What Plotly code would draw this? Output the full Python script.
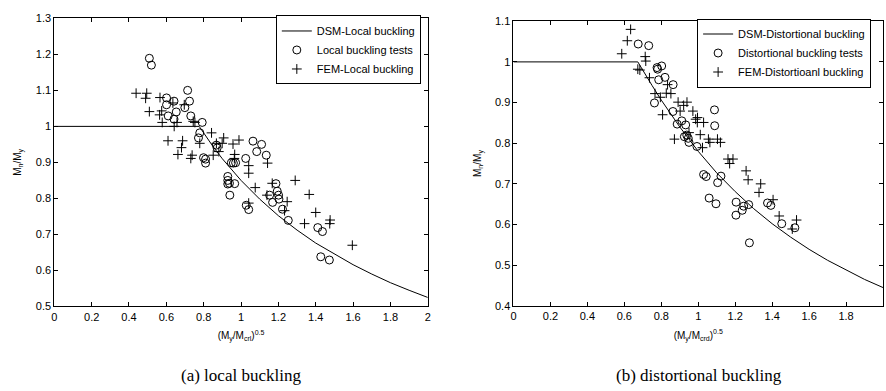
import plotly.graph_objects as go

# ---------------- data: (a) local buckling ----------------
dsm_local_x = [0, 0.776, 0.85, 0.9, 1.0, 1.1, 1.2, 1.3, 1.4, 1.5, 1.6, 1.7, 1.8, 1.9, 2.0]
dsm_local_y = [1.0, 1.0, 0.944, 0.910, 0.850, 0.798, 0.752, 0.712, 0.676, 0.645, 0.616, 0.590, 0.566, 0.545, 0.525]

local_test_x = [0.509, 0.520, 0.601, 0.601, 0.610, 0.641, 0.641, 0.653, 0.699, 0.714, 0.724, 0.731,
                0.792, 0.779, 0.772, 0.799, 0.810, 0.810, 0.868, 0.872, 0.929, 0.929, 0.929, 0.938,
                0.940, 0.966, 0.948, 0.959, 0.971, 1.025, 1.028, 1.041, 1.064, 1.084, 1.110, 1.135,
                1.187, 1.194, 1.201, 1.203, 1.153, 1.169, 1.222, 1.253, 1.411, 1.436, 1.427, 1.473]
local_test_y = [1.189, 1.170, 1.079, 1.060, 1.029, 1.070, 1.020, 1.040, 1.052, 1.100, 1.070, 1.029,
                1.011, 0.982, 0.968, 0.913, 0.909, 0.898, 0.948, 0.940, 0.861, 0.850, 0.840, 0.842,
                0.809, 0.841, 0.899, 0.898, 0.899, 0.911, 0.781, 0.769, 0.959, 0.930, 0.950, 0.920,
                0.841, 0.820, 0.809, 0.798, 0.809, 0.789, 0.770, 0.739, 0.719, 0.708, 0.638, 0.629]

local_fem_x = [0.438, 0.495, 0.489, 0.509, 0.566, 0.564, 0.575, 0.578, 0.609, 0.635, 0.642, 0.657,
               0.662, 0.687, 0.681, 0.696, 0.731, 0.738, 0.744, 0.753, 0.779, 0.842, 0.851, 0.868,
               0.881, 0.899, 0.907, 0.957, 0.989, 0.966, 0.964, 1.041, 1.041, 1.076, 1.041, 1.142,
               1.167, 1.139, 1.247, 1.233, 1.290, 1.365, 1.340, 1.400, 1.477, 1.475, 1.596]
local_fem_y = [1.092, 1.092, 1.078, 1.041, 1.080, 1.032, 1.043, 1.011, 0.960, 1.065, 1.000, 1.011,
               0.922, 0.960, 0.941, 1.060, 0.911, 0.920, 1.014, 1.011, 0.953, 0.982, 0.920, 0.953,
               0.930, 0.953, 0.968, 0.951, 0.962, 0.922, 0.911, 0.891, 0.870, 0.830, 0.787, 0.898,
               0.842, 0.809, 0.791, 0.766, 0.850, 0.811, 0.730, 0.761, 0.740, 0.730, 0.670]

# ---------------- data: (b) distortional buckling ----------------
dsm_dist_x = [0, 0.673, 0.75, 0.8, 0.9, 1.0, 1.1, 1.2, 1.3, 1.4, 1.5, 1.6, 1.7, 1.8, 1.9, 2.0]
dsm_dist_y = [1.0, 1.0, 0.942, 0.906, 0.840, 0.780, 0.727, 0.681, 0.639, 0.602, 0.569, 0.539, 0.512, 0.488, 0.465, 0.445]

dist_test_x = [0.675, 0.732, 0.777, 0.780, 0.802, 0.820, 0.786, 0.864, 0.763, 0.863, 0.911, 0.886,
               0.932, 0.938, 0.925, 0.946, 0.950, 0.993, 1.088, 1.089, 1.029, 1.043, 1.105, 1.123,
               1.059, 1.096, 1.205, 1.204, 1.238, 1.246, 1.273, 1.277, 1.375, 1.393, 1.452, 1.523]
dist_test_y = [1.044, 1.040, 0.986, 0.982, 0.990, 0.962, 0.956, 0.944, 0.899, 0.878, 0.855, 0.847,
               0.845, 0.820, 0.816, 0.812, 0.802, 0.792, 0.882, 0.843, 0.723, 0.718, 0.703, 0.719,
               0.665, 0.651, 0.655, 0.623, 0.635, 0.645, 0.649, 0.555, 0.653, 0.647, 0.602, 0.592]

dist_fem_x = [0.634, 0.616, 0.586, 0.713, 0.716, 0.673, 0.684, 0.736, 0.766, 0.795, 0.807, 0.827,
              0.852, 0.834, 0.871, 0.891, 0.902, 0.921, 0.939, 0.950, 0.971, 0.986, 0.996, 0.995,
              1.029, 1.011, 1.023, 1.055, 1.063, 1.104, 1.120, 1.161, 1.170, 1.188, 1.259, 1.270,
              1.338, 1.329, 1.405, 1.438, 1.509, 1.532]
dist_fem_y = [1.080, 1.052, 1.020, 1.013, 1.002, 0.982, 0.980, 0.961, 0.922, 0.913, 0.870, 0.923,
              0.922, 0.944, 0.810, 0.901, 0.879, 0.893, 0.901, 0.826, 0.879, 0.859, 0.863, 0.851,
              0.851, 0.821, 0.789, 0.810, 0.802, 0.810, 0.802, 0.761, 0.750, 0.761, 0.732, 0.710,
              0.700, 0.679, 0.661, 0.621, 0.589, 0.611]

x_ticks = [0, 0.2, 0.4, 0.6, 0.8, 1, 1.2, 1.4, 1.6, 1.8, 2]

FONT = "Liberation Sans, Arial, sans-serif"
circle = dict(symbol="circle-open", size=8, color="black", line=dict(width=1, color="black"))
plus = dict(symbol="cross-thin", size=7, color="black", line=dict(width=1, color="black"))

fig = go.Figure()
fig.add_trace(go.Scatter(x=dsm_local_x, y=dsm_local_y, mode="lines", line=dict(color="black", width=1),
                         name="DSM-Local buckling", xaxis="x", yaxis="y", legend="legend"))
fig.add_trace(go.Scatter(x=local_test_x, y=local_test_y, mode="markers", marker=circle,
                         name="Local buckling tests", xaxis="x", yaxis="y", legend="legend"))
fig.add_trace(go.Scatter(x=local_fem_x, y=local_fem_y, mode="markers", marker=plus,
                         name="FEM-Local buckling", xaxis="x", yaxis="y", legend="legend"))
fig.add_trace(go.Scatter(x=dsm_dist_x, y=dsm_dist_y, mode="lines", line=dict(color="black", width=1),
                         name="DSM-Distortional buckling", xaxis="x2", yaxis="y2", legend="legend2"))
fig.add_trace(go.Scatter(x=dist_test_x, y=dist_test_y, mode="markers", marker=circle,
                         name="Distortional buckling tests", xaxis="x2", yaxis="y2", legend="legend2"))
fig.add_trace(go.Scatter(x=dist_fem_x, y=dist_fem_y, mode="markers", marker=plus,
                         name="FEM-Distortioanl buckling", xaxis="x2", yaxis="y2", legend="legend2"))

axis_common = dict(showgrid=False, zeroline=False, showline=True, linecolor="black", linewidth=1,
                   mirror="ticks", ticks="inside", ticklen=4, tickcolor="black",
                   tickfont=dict(family=FONT, size=11, color="black"))

fig.update_layout(
    width=886, height=391,
    margin=dict(l=0, r=0, t=0, b=0),
    paper_bgcolor="white", plot_bgcolor="white",
    font=dict(family=FONT, color="black"),
    xaxis=dict(domain=[0.0583, 0.4827], range=[0, 2], tickvals=x_ticks, anchor="y",
               title=dict(text="(M<sub>y</sub>/M<sub>crl</sub>)<sup>0.5</sup>", font=dict(size=10), standoff=10),
               **axis_common),
    yaxis=dict(domain=[0.2072, 0.9675], range=[0.5, 1.3], dtick=0.1, anchor="x",
               title=dict(text="M<sub>n</sub>/M<sub>y</sub>", font=dict(size=10), standoff=12),
               **axis_common),
    xaxis2=dict(domain=[0.5801, 1.0], range=[0, 2], tickvals=x_ticks, anchor="y2",
                title=dict(text="(M<sub>y</sub>/M<sub>crd</sub>)<sup>0.5</sup>", font=dict(size=10), standoff=10),
                **axis_common),
    yaxis2=dict(domain=[0.2089, 0.9598], range=[0.4, 1.1], dtick=0.1, anchor="x2",
                title=dict(text="M<sub>n</sub>/M<sub>y</sub>", font=dict(size=10), standoff=11),
                **axis_common),
    legend=dict(x=0.4748, y=0.975, xanchor="right", yanchor="top", bgcolor="white",
                bordercolor="black", borderwidth=1, font=dict(family=FONT, size=11, color="black"),
                tracegroupgap=0, itemwidth=30),
    legend2=dict(x=0.9865, y=0.967, xanchor="right", yanchor="top", bgcolor="white",
                 bordercolor="black", borderwidth=1, font=dict(family=FONT, size=11, color="black"),
                 tracegroupgap=0, itemwidth=30),
    annotations=[
        dict(text="(a) local buckling", x=0.2705, y=0.026, xref="paper", yref="paper",
             showarrow=False, xanchor="center", yanchor="middle",
             font=dict(family="Liberation Serif, Times New Roman, serif", size=17, color="black")),
        dict(text="(b) distortional buckling", x=0.7905, y=0.026, xref="paper", yref="paper",
             showarrow=False, xanchor="center", yanchor="middle",
             font=dict(family="Liberation Serif, Times New Roman, serif", size=17, color="black")),
    ],
)

fig.write_html("out.html")
